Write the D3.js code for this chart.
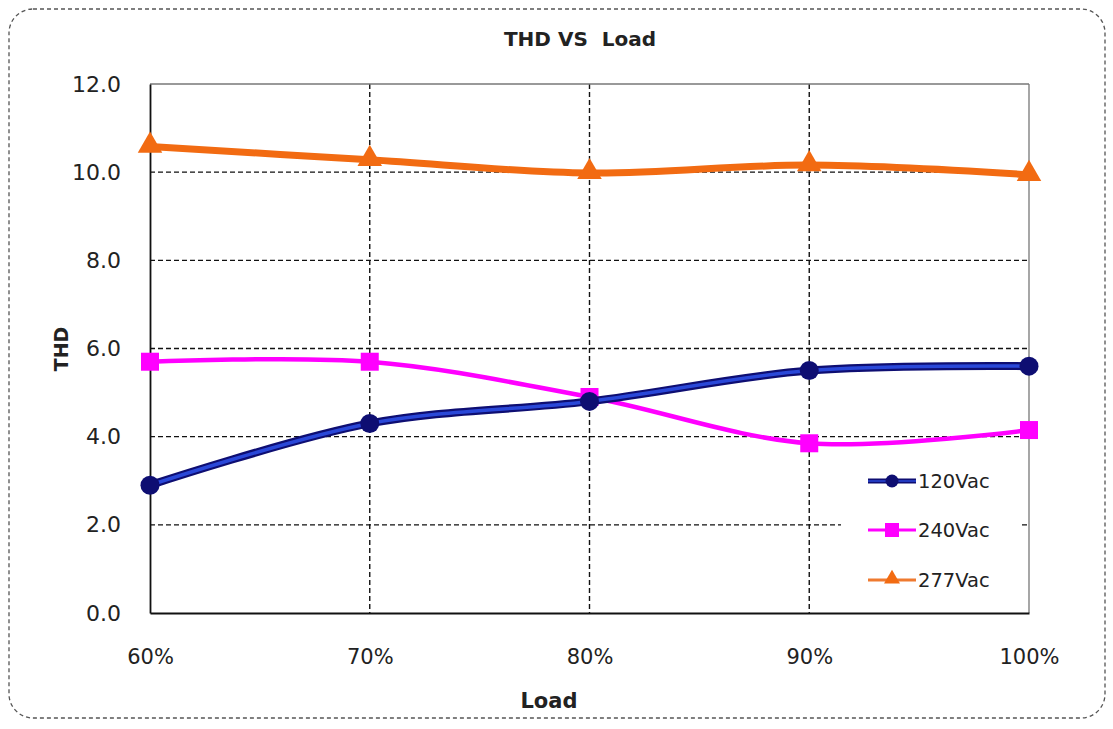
<!DOCTYPE html>
<html>
<head>
<meta charset="utf-8">
<script src="https://cdn.jsdelivr.net/npm/d3@7"></script>
<style>
  html, body { margin: 0; padding: 0; background: #fff; }
  svg { display: block; }
  text { font-family: "DejaVu Sans", Verdana, sans-serif; fill: #222; }
</style>
</head>
<body>
<script>
// ---- data ----
const categories = ["60%", "70%", "80%", "90%", "100%"];
const series120 = [2.9, 4.3, 4.8, 5.5, 5.6];
const series240 = [5.7, 5.7, 4.9, 3.85, 4.15];
const series277 = [10.58, 10.28, 9.98, 10.16, 9.94];
const seriesNames = ["120Vac", "240Vac", "277Vac"];
const yTicks = [0, 2, 4, 6, 8, 10, 12];
const chartTitle = "THD VS  Load";
const xTitle = "Load";
const yTitle = "THD";

// ---- layout ----
const W = 1113, H = 729;
const plot = { left: 150, right: 1029, top: 84, bottom: 613 };

const svg = d3.select("body").append("svg").attr("width", W).attr("height", H);

// outer dashed rounded border
svg.append("rect")
  .attr("x", 9).attr("y", 9).attr("width", 1096).attr("height", 709)
  .attr("rx", 24).attr("ry", 24)
  .attr("fill", "#fff").attr("stroke", "#555").attr("stroke-width", 1.3)
  .attr("stroke-dasharray", "4,3");

const x = d3.scalePoint().domain(categories).range([plot.left, plot.right]);
const y = d3.scaleLinear().domain([0, 12]).range([plot.bottom, plot.top]);

// gridlines horizontal (dashed)
const gridG = svg.append("g");
gridG.selectAll("line.h").data(yTicks.filter(d => d > 0 && d < 12)).enter().append("line")
  .attr("x1", plot.left).attr("x2", plot.right)
  .attr("y1", d => y(d)).attr("y2", d => y(d))
  .attr("stroke", "#111").attr("stroke-width", 1.4).attr("stroke-dasharray", "5,3");
// vertical gridlines
gridG.selectAll("line.v").data(categories.slice(1, -1)).enter().append("line")
  .attr("x1", d => x(d)).attr("x2", d => x(d))
  .attr("y1", plot.top).attr("y2", plot.bottom)
  .attr("stroke", "#111").attr("stroke-width", 1.4).attr("stroke-dasharray", "5,3");

// top and right frame (solid grey)
svg.append("line").attr("x1", plot.left).attr("x2", plot.right).attr("y1", plot.top).attr("y2", plot.top)
  .attr("stroke", "#777").attr("stroke-width", 1.3);
svg.append("line").attr("x1", plot.right).attr("x2", plot.right).attr("y1", plot.top).attr("y2", plot.bottom)
  .attr("stroke", "#777").attr("stroke-width", 1.3);

// y axis
const yAxis = svg.append("g").attr("transform", `translate(${plot.left},0)`)
  .call(d3.axisLeft(y).tickValues(yTicks).tickFormat(d3.format(".1f")).tickSize(0).tickPadding(29));
yAxis.select(".domain").attr("stroke", "#111").attr("stroke-width", 1.8);
yAxis.selectAll("text").style("font-size", "22px").style("font-family", '"DejaVu Sans", sans-serif').attr("fill", "#2a2a2a");

// x axis
const xAxis = svg.append("g").attr("transform", `translate(0,${plot.bottom})`)
  .call(d3.axisBottom(x).tickSize(0).tickPadding(36));
xAxis.select(".domain").attr("stroke", "#111").attr("stroke-width", 1.8);
xAxis.selectAll("text").style("font-size", "21px").style("font-family", '"DejaVu Sans", sans-serif').attr("fill", "#2a2a2a");

// titles
svg.append("text").attr("x", 580).attr("y", 46).attr("text-anchor", "middle")
  .attr("xml:space", "preserve").style("white-space", "pre")
  .style("font-size", "20px").style("font-weight", "bold").text(chartTitle);
svg.append("text").attr("x", 549).attr("y", 708).attr("text-anchor", "middle")
  .style("font-size", "21px").style("font-weight", "bold").text(xTitle);
svg.append("text").attr("transform", "translate(68,349) rotate(-90)").attr("text-anchor", "middle")
  .style("font-size", "19px").style("font-weight", "bold").text(yTitle);

const line = d3.line().x((d, i) => x(categories[i])).y(d => y(d)).curve(d3.curveCatmullRom.alpha(0.5));

// series 277 (orange)
const orange = "#f26b12";
svg.append("path").attr("d", line(series277)).attr("fill", "none")
  .attr("stroke", orange).attr("stroke-width", 7).attr("stroke-linejoin", "round");
const tri = d3.symbol().type(d3.symbolTriangle).size(260);
svg.selectAll("path.t277").data(series277).enter().append("path")
  .attr("transform", (d, i) => `translate(${x(categories[i])},${y(d) - 1})`)
  .attr("d", tri).attr("fill", orange);

// series 240 (magenta)
const magenta = "#ff00ff";
svg.append("path").attr("d", line(series240)).attr("fill", "none")
  .attr("stroke", magenta).attr("stroke-width", 4.5);
svg.selectAll("rect.s240").data(series240).enter().append("rect")
  .attr("x", (d, i) => x(categories[i]) - 9).attr("y", d => y(d) - 9)
  .attr("width", 18).attr("height", 18).attr("fill", magenta);

// series 120 (navy/blue)
const navy = "#0e0e72";
svg.append("path").attr("d", line(series120)).attr("fill", "none")
  .attr("stroke", navy).attr("stroke-width", 8).attr("stroke-linecap", "round");
svg.append("path").attr("d", line(series120)).attr("fill", "none")
  .attr("stroke", "#2a48d8").attr("stroke-width", 3.5).attr("stroke-linecap", "round");
svg.selectAll("circle.s120").data(series120).enter().append("circle")
  .attr("cx", (d, i) => x(categories[i])).attr("cy", d => y(d)).attr("r", 9.5).attr("fill", navy);

// legend
const legend = svg.append("g");
legend.append("rect").attr("x", 841).attr("y", 455).attr("width", 180).attr("height", 150).attr("fill", "#fff");
const legY = [481, 530, 580];
const lx1 = 868, lx2 = 916, lmid = 892;
// 120
legend.append("line").attr("x1", lx1).attr("x2", lx2).attr("y1", legY[0]).attr("y2", legY[0])
  .attr("stroke", navy).attr("stroke-width", 5);
legend.append("line").attr("x1", lx1).attr("x2", lx2).attr("y1", legY[0]).attr("y2", legY[0])
  .attr("stroke", "#2a48d8").attr("stroke-width", 1.5);
legend.append("circle").attr("cx", lmid).attr("cy", legY[0]).attr("r", 6.5).attr("fill", navy);
// 240
legend.append("line").attr("x1", lx1).attr("x2", lx2).attr("y1", legY[1]).attr("y2", legY[1])
  .attr("stroke", magenta).attr("stroke-width", 3);
legend.append("rect").attr("x", lmid - 7).attr("y", legY[1] - 7).attr("width", 14).attr("height", 14).attr("fill", magenta);
// 277
legend.append("line").attr("x1", lx1).attr("x2", lx2).attr("y1", legY[2]).attr("y2", legY[2])
  .attr("stroke", "#ef7a30").attr("stroke-width", 3);
legend.append("path").attr("transform", `translate(${lmid},${legY[2] - 1})`)
  .attr("d", d3.symbol().type(d3.symbolTriangle).size(110)).attr("fill", orange);
legend.selectAll("text.leg").data(seriesNames).enter().append("text")
  .attr("x", 918).attr("y", (d, i) => legY[i] + 7)
  .style("font-size", "19.5px").text(d => d);
</script>
</body>
</html>
